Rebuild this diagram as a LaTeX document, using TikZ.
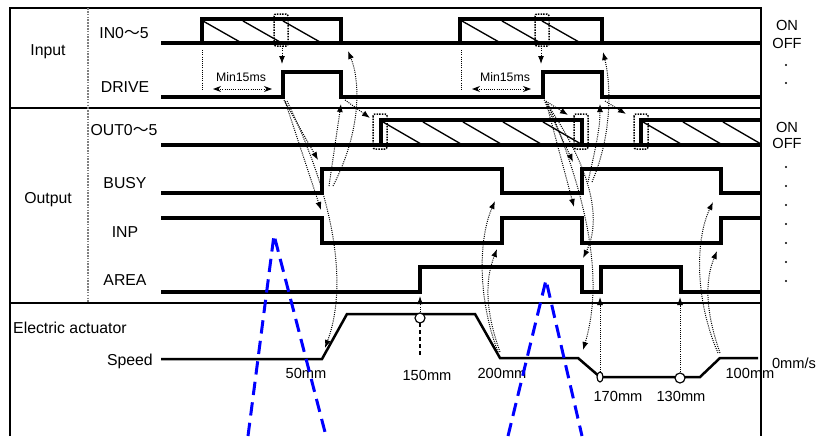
\documentclass[tikz,border=0pt]{standalone}
\usepackage{fontspec}
\setmainfont{Liberation Sans}
\newfontfamily\cjkfont{Noto Sans CJK JP}
\usetikzlibrary{arrows.meta,calc,positioning}
\tikzset{
  frameline/.style={line width=0.6mm},
  signal/.style={line width=1.2mm,line join=miter},
  speedline/.style={line width=0.75mm,line join=miter},
  hatch/.style={line width=0.4mm},
  cue/.style={densely dotted,line width=0.3mm,-{Latex[length=2.4mm,width=1.8mm]}},
  cuebox/.style={densely dotted,line width=0.45mm,rounded corners=0.6mm},
  lbl/.style={font=\fontsize{13.5}{15}\selectfont,inner sep=0pt},
  mmlbl/.style={font=\fontsize{12.5}{14}\selectfont,inner sep=0pt},
  small/.style={font=\fontsize{10.5}{12}\selectfont,inner sep=0pt},
  marker/.style={line width=0.35mm,fill=white},
  wedge/.style={blue,line width=0.9mm,dash pattern=on 4mm off 2.2mm}
}

\begin{document}
\begin{tikzpicture}[x=0.3mm,y=-0.3mm,>=Stealth]
  \useasboundingbox (0,0) rectangle (832,436);

  \draw[frameline] (10,436) -- (10,8) -- (761,8) -- (761,436);
  \draw[frameline] (10,108) -- (761,108);
  \draw[frameline] (10,303) -- (761,303);
  \draw[densely dotted,line width=0.5mm,gray] (88,8) -- (88,303);

  \node[lbl] (input) at (48,52) {Input};
  \node[lbl] (output) at (48,200) {Output};
  \node[lbl] (in) at (124,33) {IN0{\cjkfont ～}5};
  \node[lbl] (drive) at (125,87) {DRIVE};
  \node[lbl] (out) at (124,130) {OUT0{\cjkfont ～}5};
  \node[lbl] (busy) at (125,183) {BUSY};
  \node[lbl] (inp) at (125,232) {INP};
  \node[lbl] (area) at (125,280) {AREA};
  \node[lbl,anchor=west] (actuator) at (13,328) {Electric actuator};
  \node[lbl,anchor=east] (speed) at (153,361) {Speed};

  % signals
  \draw[signal] (161,43) -- (761,43);
  \draw[signal] (202,43) -- (202,19) -- (341,19) -- (341,43);
  \draw[signal] (460,43) -- (460,19) -- (602,19) -- (602,43);
  \draw[signal] (161,97) -- (283,97) -- (283,72) -- (341,72) -- (341,97) -- (543,97)
    -- (543,72) -- (602,72) -- (602,97) -- (761,97);
  \draw[signal] (161,145) -- (761,145);
  \draw[signal] (381,145) -- (381,120) -- (582,120) -- (582,145);
  \draw[signal] (641,145) -- (641,120) -- (761,120);
  \draw[signal] (161,193) -- (322,193) -- (322,169) -- (502,169) -- (502,193) -- (582,193)
    -- (582,169) -- (721,169) -- (721,193) -- (761,193);
  \draw[signal] (161,218) -- (322,218) -- (322,243) -- (502,243) -- (502,218) -- (582,218)
    -- (582,243) -- (721,243) -- (721,218) -- (761,218);
  \draw[signal] (161,292) -- (420,292) -- (420,267) -- (582,267) -- (582,292) -- (601,292)
    -- (601,267) -- (681,267) -- (681,292) -- (761,292);
  \draw[speedline] (161,359) -- (322,359) -- (347,314) -- (475,314) -- (500,358) -- (578,358)
    -- (600,377) -- (700,377) -- (720,358) -- (758,358);

  \foreach \x in {203,243,283,462,502,542}
    \draw[hatch] (\x,21) -- (\x+37,42);
  \foreach \x in {383,423,463,503,543,643,683,723}
    \draw[hatch] (\x,122) -- (\x+38,144);

  % timing cues
  \draw[cuebox] (274,14) rectangle (288,46);
  \draw[cuebox] (535,14) rectangle (549,46);
  \draw[cuebox] (373,114) rectangle (387,149);
  \draw[cuebox] (574,114) rectangle (588,149);
  \draw[cuebox] (634,114) rectangle (648,149);

  \draw[densely dotted,line width=0.3mm] (202,50) -- (202,90);
  \draw[densely dotted,line width=0.3mm] (461,50) -- (461,90);
  \draw[cue,<->] (213,89) -- (272,89);
  \draw[cue,<->] (472,89) -- (531,89);
  \node[small] (min1) at (241,77) {Min15ms};
  \node[small] (min2) at (505,77) {Min15ms};

  \draw[cue] (282,46) -- (282,64);
  \draw[cue] (541,46) -- (541,64);
  \draw[cue] (284,100) -- (318,160);
  \draw[cue] (285,101) -- (321,210);
  \draw[cue] (287,101) .. controls (335,200) and (348,285) .. (325,348);
  \draw[cue] (329,186) -- (341,104);
  \draw[cue] (333,186) .. controls (362,130) and (360,80) .. (348,51);
  \draw[cue] (345,100) -- (370,118);

  \draw[cue] (544,100) -- (568,115);
  \draw[cue] (545,102) -- (573,162);
  \draw[cue] (546,102) -- (574,207);
  \draw[cue] (547,104) .. controls (592,170) and (602,220) .. (583,258);
  \draw[cue] (548,104) .. controls (588,200) and (604,280) .. (583,350);
  \draw[cue] (588,182) .. controls (595,150) and (600,130) .. (600,104);
  \draw[cue] (592,182) .. controls (614,130) and (610,80) .. (603,52);
  \draw[cue] (605,101) -- (626,114);

  \draw[cue] (498,352) .. controls (478,300) and (478,240) .. (495,201);
  \draw[cue] (500,352) .. controls (485,310) and (485,280) .. (497,249);
  \draw[cue] (718,353) .. controls (695,300) and (695,240) .. (713,202);
  \draw[cue] (720,353) .. controls (705,310) and (705,280) .. (717,251);

  \draw[cue] (420,312) -- (420,296);
  \draw[dashed,line width=0.35mm] (420,323) -- (420,357);
  \draw[cue] (600,372) -- (600,297);
  \draw[cue] (680,372) -- (680,297);
  \draw[marker] (420,318) circle (5);
  \draw[marker] (600,377) ellipse (3 and 5);
  \draw[marker] (680,378) circle (5);

  \node[mmlbl] (p50) at (306,373) {50mm};
  \node[mmlbl] (p150) at (427,375) {150mm};
  \node[mmlbl] (p200) at (502,373) {200mm};
  \node[mmlbl] (p170) at (618,396) {170mm};
  \node[mmlbl] (p130) at (681,396) {130mm};
  \node[mmlbl] (p100) at (750,373) {100mm};
  \node[mmlbl] (v0) at (794,363) {0mm/s};

  \node[mmlbl] (on1) at (787,25) {ON};
  \node[mmlbl] (off1) at (787,43) {OFF};
  \node[mmlbl] (on2) at (787,127) {ON};
  \node[mmlbl] (off2) at (787,143) {OFF};
  \foreach \y in {65,83,167,186,205,224,243,262,281}
    \fill (786,\y) circle (1.2);

  \draw[wedge] (248,436) -- (274,235) -- (326,436);
  \draw[wedge] (508,436) -- (546,280) -- (582,436);
\end{tikzpicture}
\end{document}
